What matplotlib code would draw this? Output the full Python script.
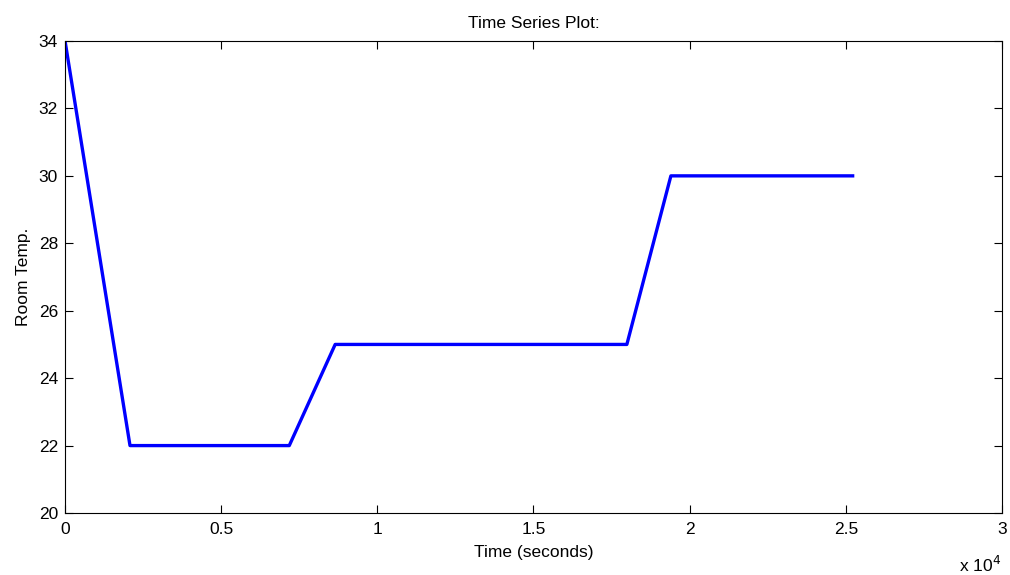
import matplotlib
matplotlib.use('Agg')
import matplotlib.pyplot as plt

# time (s) and room temperature breakpoints
time_s = [0, 2080, 7180, 8650, 17990, 19400, 25220]
room_temp = [34, 22, 22, 25, 25, 30, 30]

plt.rcParams['font.family'] = ['Liberation Sans', 'DejaVu Sans']
plt.rcParams['font.size'] = 12.5

fig = plt.figure(figsize=(10.1, 5.75), dpi=100)
ax = fig.add_axes([0.0644, 0.1078, 0.9276, 0.8209])

ax.plot(time_s, room_temp, color='#0000ff', linewidth=2.4)

ax.set_xlim(0, 30000)
ax.set_ylim(20, 34)
ax.set_xticks([0, 5000, 10000, 15000, 20000, 25000, 30000])
ax.set_xticklabels(['0', '0.5', '1', '1.5', '2', '2.5', '3'])
ax.set_yticks(range(20, 35, 2))
ax.tick_params(direction='in', top=True, right=True, length=5.5, width=0.8)
ax.tick_params(axis='x', pad=6.5)
ax.tick_params(axis='y', pad=5)
for s in ax.spines.values():
    s.set_linewidth(0.8)

ax.set_title('Time Series Plot:', fontsize=12.5, pad=9)
ax.set_xlabel('Time (seconds)', labelpad=6)
ax.set_ylabel('Room Temp.', labelpad=6)
fig.text(0.991, 0.0, r'x 10$^{4}$', ha='right', va='bottom', fontsize=12.5)

fig.savefig('out.png', dpi=100)
